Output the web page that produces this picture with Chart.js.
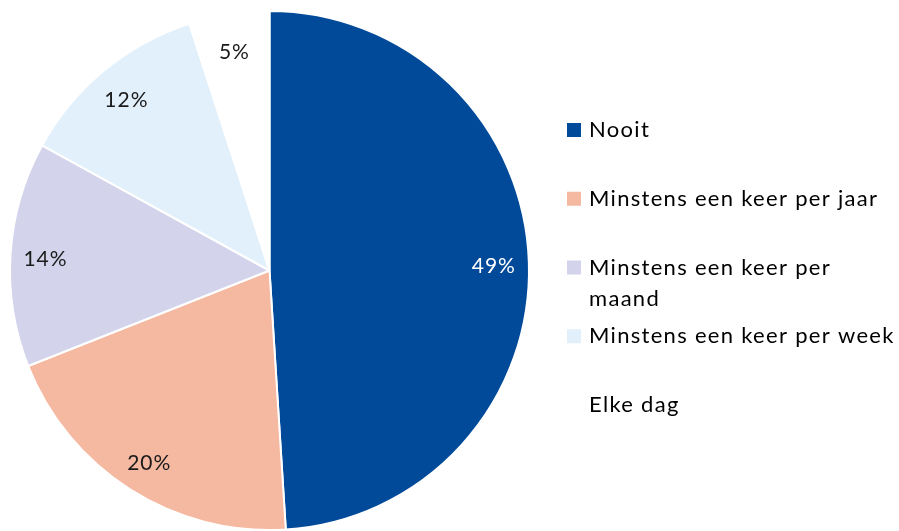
<!DOCTYPE html>
<html>
<head>
<meta charset="utf-8">
<script src="https://cdn.jsdelivr.net/npm/chart.js@4.4.1/dist/chart.umd.min.js"></script>
<style>
  html, body { margin: 0; padding: 0; background: #ffffff; }
  #wrap { width: 899px; height: 531px; }
</style>
</head>
<body>
<div id="wrap"><canvas id="pieChart"></canvas></div>
<script>
var labels = ['Nooit', 'Minstens een keer per jaar', 'Minstens een keer per maand', 'Minstens een keer per week', 'Elke dag']
var values = [49, 20, 14, 12, 5]
var sliceColors = ['#014a9a', '#f5b8a0', '#d3d4eb', '#e1f0fb', '#ffffff']
var labelColors = ['#ffffff', '#1a1a1a', '#1a1a1a', '#1a1a1a', '#1a1a1a']

var fontName = 'Lato, "Open Sans", sans-serif'

//percent labels inside the slices
var sliceLabels = {
    id: 'sliceLabels',
    afterDatasetsDraw: function (chart) {
        var ctx = chart.ctx
        var meta = chart.getDatasetMeta(0)
        ctx.save()
        ctx.font = '21px ' + fontName
        ctx.letterSpacing = '1px'
        ctx.textAlign = 'center'
        ctx.textBaseline = 'middle'
        meta.data.forEach(function (arc, i) {
            var p = arc.getProps(['x', 'y', 'startAngle', 'endAngle', 'outerRadius'])
            var mid = (p.startAngle + p.endAngle) / 2
            var r = p.outerRadius * 0.865
            ctx.fillStyle = labelColors[i]
            ctx.fillText(values[i] + '%', p.x + Math.cos(mid) * r, p.y + Math.sin(mid) * r + 3)
        })
        ctx.restore()
    }
}

//legend on the right, like the excel one
var sideLegend = {
    id: 'sideLegend',
    afterDraw: function (chart) {
        var ctx = chart.ctx
        var ds = chart.data.datasets[0]
        var boxX = 567, textX = 589, y = 130, step = 68.75, lineH = 31, maxW = 308
        ctx.save()
        ctx.font = '22px ' + fontName
        ctx.letterSpacing = '1.3px'
        ctx.textBaseline = 'middle'
        chart.data.labels.forEach(function (label, i) {
            ctx.fillStyle = ds.backgroundColor[i]
            ctx.fillRect(boxX, y - 7, 14, 14)
            //wrap words
            var words = label.split(' '), lines = [], cur = ''
            words.forEach(function (w) {
                var test = cur ? cur + ' ' + w : w
                if (ctx.measureText(test).width > maxW && cur) {
                    lines.push(cur)
                    cur = w
                } else {
                    cur = test
                }
            })
            lines.push(cur)
            ctx.fillStyle = '#000000'
            lines.forEach(function (ln, j) {
                ctx.fillText(ln, textX, y + j * lineH)
            })
            y += step
        })
        ctx.restore()
    }
}

new Chart(document.getElementById('pieChart').getContext('2d'), {
    type: 'pie',
    data: {
        labels: labels,
        datasets: [
            {
                data: values,
                backgroundColor: sliceColors,
                borderColor: '#ffffff',
                borderWidth: 2
            }
        ]
    },
    options: {
        responsive: true,
        maintainAspectRatio: false,
        animation: false,
        layout: { padding: { left: 9, top: 10, bottom: 0, right: 369 } },
        plugins: {
            legend: { display: false },
            tooltip: { enabled: false }
        }
    },
    plugins: [sliceLabels, sideLegend]
})
</script>
</body>
</html>
